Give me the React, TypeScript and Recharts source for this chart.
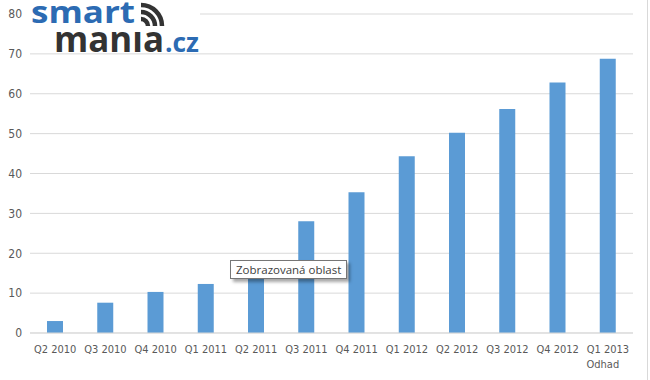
import { Bar, BarChart, CartesianGrid, XAxis, YAxis } from "recharts";

const quarters = [
  "Q2 2010", "Q3 2010", "Q4 2010", "Q1 2011", "Q2 2011", "Q3 2011",
  "Q4 2011", "Q1 2012", "Q2 2012", "Q3 2012", "Q4 2012", "Q1 2013\nOdhad",
];
const values = [3, 7.6, 10.3, 12.3, 16, 28, 35.3, 44.3, 50.2, 56.2, 62.8, 68.8];
const yTicks = [0, 10, 20, 30, 40, 50, 60, 70, 80];

const data = quarters.map((q, i) => ({ q, v: values[i] }));

const FONT = "'Liberation Sans Narrow', 'DejaVu Sans Condensed', 'Open Sans', sans-serif";

function QuarterTick(props: any) {
  const { x, y, payload } = props;
  const lines = String(payload.value).split("\n");
  return (
    <text x={x} y={y} textAnchor="middle" fill="#595959" fontSize={11} fontFamily={FONT}>
      {lines.map((l, i) => (
        <tspan key={i} x={i === 0 ? x : x - 5} dy={i === 0 ? 12 : 15}>
          {l}
        </tspan>
      ))}
    </text>
  );
}

function Logo() {
  return (
    <svg width={650} height={380} style={{ position: "absolute", left: 0, top: 0, pointerEvents: "none" }}>
      <rect x={30} y={0} width={170} height={30} fill="#fff" />
      <rect x={53} y={30} width={147} height={22} fill="#fff" />
      <text x={31} y={23} fontSize={30} fontWeight={700} fill="#2c6bb3"
        fontFamily="'Open Sans', sans-serif" textLength={104} lengthAdjust="spacingAndGlyphs">
        smart
      </text>
      <g fill="none" stroke="#333" strokeWidth={4.5}>
        <path d="M141 19 A7 7 0 0 1 148 26" />
        <path d="M141 12 A14 14 0 0 1 155 26" />
        <path d="M141 5 A21 21 0 0 1 162 26" />
      </g>
      <text x={54} y={52} fontSize={35} fontWeight={700} fill="#333"
        fontFamily="'Open Sans', sans-serif" textLength={110} lengthAdjust="spacingAndGlyphs">
        manıa
      </text>
      <text x={165} y={52} fontSize={26} fontWeight={700} fill="#2c6bb3"
        fontFamily="'Open Sans', sans-serif" textLength={34} lengthAdjust="spacingAndGlyphs">
        .cz
      </text>
      <line x1={647.5} y1={0} x2={647.5} y2={380} stroke="#d9d9d9" />
    </svg>
  );
}

export default function App() {
  return (
    <div style={{ position: "absolute", left: 0, top: 0, width: 650, height: 380, background: "#fff" }}>
      <BarChart width={650} height={380} data={data} margin={{ top: 14, right: 17, left: 0, bottom: 17 }}>
        <CartesianGrid vertical={false} stroke="#d9d9d9" />
        <XAxis dataKey="q" axisLine={{ stroke: "#d9d9d9" }} tickLine={false} interval={0}
          height={30} tick={<QuarterTick />} />
        <YAxis domain={[0, 80]} ticks={yTicks} width={30} axisLine={false} tickLine={false}
          tick={{ fill: "#595959", fontSize: 12, fontFamily: FONT }} />
        <Bar dataKey="v" fill="#5b9bd5" barSize={16} isAnimationActive={false} />
      </BarChart>
      <Logo />
      <div
        style={{
          position: "absolute", left: 230, top: 260, padding: "1px 5px",
          background: "#fff", border: "1px solid #767676", boxShadow: "3px 3px 3px rgba(0,0,0,0.35)",
          fontFamily: "'Open Sans', sans-serif", fontSize: 11.5, color: "#404040", whiteSpace: "nowrap",
        }}
      >
        Zobrazovaná oblast
      </div>
    </div>
  );
}
